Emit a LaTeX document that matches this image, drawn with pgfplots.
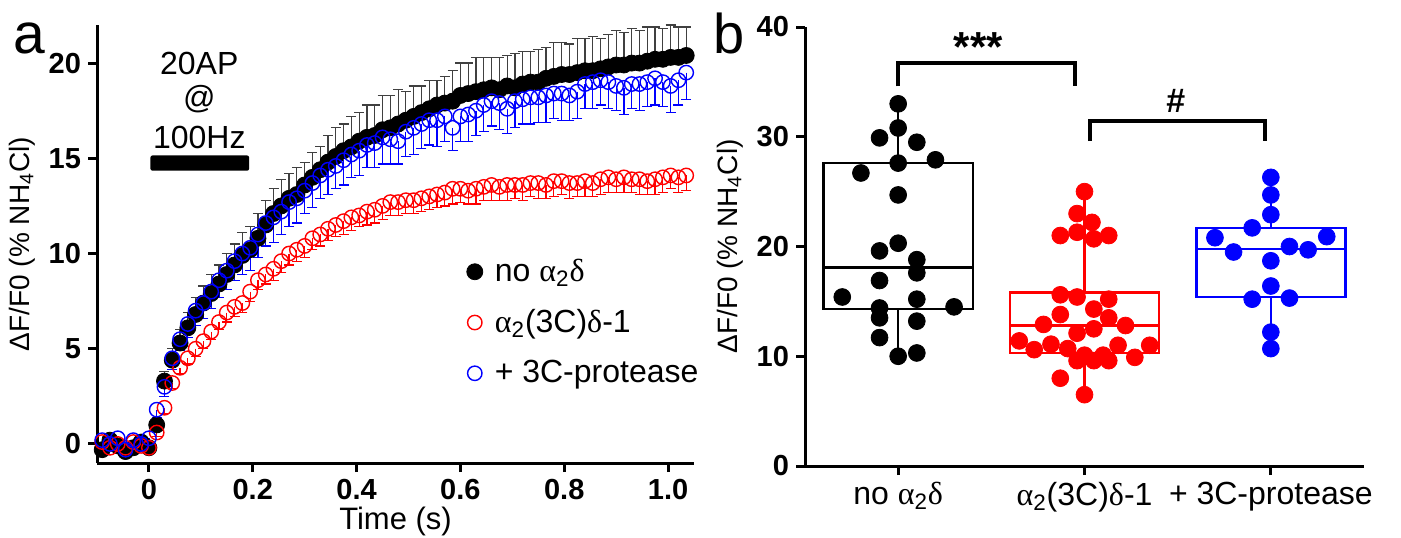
\documentclass[border=0pt]{standalone}
\usepackage{pgfplots}
\pgfplotsset{compat=1.18}
\usepackage{pgfplotstable}
\usepackage{fontspec}
\setmainfont{Liberation Sans}
\newfontfamily\grk{Liberation Serif}
\newcommand{\al}{{\grk α}}
\newcommand{\de}{{\grk δ}}
\newcommand{\fs}[1]{\fontsize{#1pt}{#1pt}\selectfont}

% time course: t, no a2d (k), a2(3C)d-1 (r), +3C-protease (b), with SEM
\pgfplotstableread{
t k ke r re b be
-0.090 -0.3 0.3 0.1 0.2 0.2 0.3
-0.075 0.2 0.3 -0.2 0.2 0.0 0.3
-0.060 -0.1 0.3 0.0 0.2 0.3 0.3
-0.045 -0.4 0.3 -0.2 0.2 -0.3 0.3
-0.030 -0.2 0.3 0.1 0.2 0.2 0.3
-0.015 0.1 0.3 -0.1 0.2 0.0 0.3
0.000 -0.2 0.3 -0.2 0.2 0.3 0.3
0.015 1.0 0.4 0.6 0.2 1.8 0.4
0.030 3.3 0.5 1.9 0.3 3.0 0.5
0.045 4.4 0.6 3.2 0.3 4.5 0.6
0.060 5.3 0.7 4.0 0.3 5.5 0.6
0.075 6.1 0.8 4.5 0.3 6.3 0.7
0.090 6.8 0.9 5.0 0.4 7.0 0.8
0.105 7.4 0.9 5.4 0.4 7.4 0.8
0.120 7.9 1.0 5.9 0.4 8.0 0.9
0.135 8.4 1.0 6.4 0.4 8.6 0.9
0.150 8.9 1.1 6.9 0.5 9.1 1.0
0.165 9.4 1.1 7.2 0.5 9.6 1.0
0.180 9.9 1.2 7.4 0.5 10.0 1.1
0.195 10.2 1.2 8.0 0.5 10.3 1.2
0.210 10.8 1.3 8.6 0.5 11.0 1.2
0.225 11.5 1.3 8.9 0.5 11.6 1.2
0.240 12.1 1.3 9.2 0.6 11.9 1.3
0.255 12.5 1.4 9.6 0.6 12.2 1.2
0.270 12.9 1.3 10.0 0.6 12.7 1.3
0.285 13.1 1.4 10.2 0.6 12.9 1.3
0.300 13.6 1.2 10.4 0.6 13.3 1.2
0.315 14.0 1.3 10.8 0.6 13.7 1.3
0.330 14.4 1.2 11.0 0.6 14.1 1.2
0.345 14.8 1.4 11.3 0.6 14.4 1.3
0.360 15.1 1.5 11.5 0.6 14.6 1.2
0.375 15.4 1.4 11.7 0.7 14.9 1.3
0.390 15.6 1.6 11.9 0.7 15.2 1.2
0.405 15.9 1.5 12.0 0.6 15.4 1.3
0.420 16.1 1.7 12.2 0.7 15.7 1.2
0.435 16.2 1.6 12.3 0.7 15.8 1.3
0.450 16.5 1.8 12.5 0.7 16.1 1.4
0.465 16.6 1.7 12.7 0.7 16.0 1.3
0.480 16.8 1.8 12.7 0.7 15.9 1.2
0.495 17.0 1.5 12.8 0.7 16.4 1.3
0.510 17.2 1.6 12.8 0.7 16.6 1.4
0.525 17.4 1.4 12.9 0.7 16.8 1.3
0.540 17.6 1.5 13.0 0.7 17.0 1.3
0.555 17.8 1.3 13.1 0.7 17.0 1.4
0.570 17.9 1.4 13.2 0.7 17.2 1.3
0.585 18.0 1.6 13.4 0.8 16.6 1.2
0.600 18.3 1.7 13.4 0.7 17.2 1.3
0.615 18.4 1.6 13.3 0.7 17.3 1.4
0.630 18.5 1.8 13.4 0.8 17.5 1.3
0.645 18.6 1.7 13.5 0.7 17.8 1.4
0.660 18.7 1.6 13.6 0.8 18.0 1.3
0.675 18.6 1.7 13.5 0.7 17.9 1.4
0.690 18.8 1.6 13.6 0.8 17.6 1.3
0.705 18.7 1.8 13.6 0.7 18.0 1.4
0.720 18.9 1.7 13.6 0.8 18.1 1.3
0.735 19.0 1.6 13.7 0.7 18.2 1.4
0.750 19.0 1.7 13.7 0.8 18.2 1.3
0.765 19.2 1.6 13.6 0.7 18.3 1.4
0.780 19.3 1.8 13.8 0.8 18.4 1.3
0.795 19.4 1.7 13.8 0.7 18.4 1.4
0.810 19.4 1.6 13.7 0.8 18.3 1.3
0.825 19.5 1.8 13.7 0.7 18.5 1.4
0.840 19.6 1.7 13.8 0.8 18.9 1.3
0.855 19.6 1.8 13.7 0.7 19.0 1.4
0.870 19.7 1.6 13.9 0.8 19.1 1.3
0.885 19.8 1.7 14.0 0.8 19.0 1.4
0.900 19.9 1.8 13.9 0.7 18.8 1.3
0.915 19.9 1.7 14.0 0.8 18.7 1.4
0.930 20.0 1.8 13.9 0.7 18.9 1.3
0.945 20.0 1.7 13.9 0.8 18.9 1.4
0.960 20.1 1.8 13.8 0.7 19.0 1.3
0.975 20.2 1.7 13.9 0.8 19.2 1.4
0.990 20.2 1.6 14.0 0.8 19.0 1.3
1.005 20.3 1.7 14.1 0.7 18.8 1.4
1.020 20.3 1.6 14.0 0.8 19.1 1.3
1.035 20.4 1.5 14.1 0.8 19.5 1.4
}\tracedata

\pgfplotsset{
  panel/.style={
    scale only axis, clip=false,
    axis x line*=bottom, axis y line*=left,
    axis line style={line width=1.5pt, -},
    tick style={line width=1.5pt, black},
    major tick length=4.5pt, tick align=outside,
    /pgf/number format/assume math mode=true,
    ticklabel style={font=\fs{14.5}\bfseries},
    label style={font=\fs{14}},
  },
  ebar/.style 2 args={error bars/.cd, y explicit, y dir=#1,
    error bar style={line width=0.6pt, #2},
    error mark=-,
    error mark options={line width=0.6pt, mark size=2.5pt, rotate=90, #2}},
  boxln/.style={#1, line width=1.2pt, line cap=rect, line join=miter, mark=none},
}

\begin{document}
\begin{tikzpicture}
\useasboundingbox (0,0) rectangle (700.5pt,268.5pt);

% ---- panel a ----
\begin{axis}[panel,
  at={(48.5pt,37pt)}, anchor=south west,
  width=298.5pt, height=219pt,
  xmin=-0.1, xmax=1.05, ymin=-1, ymax=22,
  xtick={0,0.2,0.4,0.6,0.8,1.0},
  xticklabels={0,0.2,0.4,0.6,0.8,1.0},
  ytick={0,5,10,15,20},
  xlabel={Time (s)},
  xlabel style={font=\fs{15.5}, yshift=3pt},
  ylabel={ΔF/F0 (\% NH\textsubscript{4}Cl)},
  legend style={at={(axis cs:0.6,10.15)}, anchor=north west, draw=none, fill=none,
    font=\fs{16}, row sep=8.5pt, column sep=4pt},
  legend cell align=left,
]
\addplot[only marks, mark=*, mark size=4pt, black, ebar={plus}{black!75}]
  table[x=t, y=k, y error=ke] {\tracedata};
\addplot[only marks, mark=o, mark size=3.6pt, red, mark options={line width=0.7pt},
  ebar={minus}{red}]
  table[x=t, y=r, y error=re] {\tracedata};
\addplot[only marks, mark=o, mark size=3.6pt, blue, mark options={line width=0.7pt},
  ebar={minus}{blue}]
  table[x=t, y=b, y error=be] {\tracedata};
\legend{no \al\textsubscript{2}\de, \al\textsubscript{2}(3C)\de-1, + 3C-protease}

\node[font=\fs{16}] at (axis cs:0.097,20.0) {20AP};
\node[font=\fs{16}] at (axis cs:0.097,18.1) {@};
\node[font=\fs{16}] at (axis cs:0.097,16.1) {100Hz};
\fill[rounded corners=1pt] (axis cs:0.003,14.35) rectangle (axis cs:0.193,15.15);
\end{axis}

% ---- panel b ----
\begin{axis}[panel,
  at={(402.5pt,35.5pt)}, anchor=south west,
  width=279.5pt, height=219.5pt,
  xmin=-0.5, xmax=2.5, ymin=0, ymax=40,
  xtick={0,1,2},
  xticklabels={no \al\textsubscript{2}\de, \al\textsubscript{2}(3C)\de-1, + 3C-protease},
  xticklabel style={font=\fs{16}},
  ytick={0,10,20,30,40},
  ylabel={ΔF/F0 (\% NH\textsubscript{4}Cl)},
]
% boxes: min, Q1, median, Q3, max
\addplot[boxln=black] coordinates {(-0.4,14.3) (0.4,14.3) (0.4,27.6) (-0.4,27.6) (-0.4,14.3)};
\addplot[boxln=black] coordinates {(-0.4,18.1) (0.4,18.1)};
\addplot[boxln=black] coordinates {(0,10.0) (0,14.3)};
\addplot[boxln=black] coordinates {(0,27.6) (0,33.0)};
\addplot[boxln=red] coordinates {(0.6,10.3) (1.4,10.3) (1.4,15.8) (0.6,15.8) (0.6,10.3)};
\addplot[boxln=red] coordinates {(0.6,12.8) (1.4,12.8)};
\addplot[boxln=red] coordinates {(1,6.5) (1,10.3)};
\addplot[boxln=red] coordinates {(1,15.8) (1,25.0)};
\addplot[boxln=blue] coordinates {(1.6,15.4) (2.4,15.4) (2.4,21.7) (1.6,21.7) (1.6,15.4)};
\addplot[boxln=blue] coordinates {(1.6,19.8) (2.4,19.8)};
\addplot[boxln=blue] coordinates {(2,10.7) (2,15.4)};
\addplot[boxln=blue] coordinates {(2,21.7) (2,26.3)};

\addplot[only marks, mark=*, mark size=4.2pt, black] coordinates {
  (0,33.0) (0,30.8) (-0.10,29.9) (0.10,29.5) (0,27.6) (0.20,27.9) (-0.20,26.7)
  (0,24.7) (0,20.3) (-0.10,19.6) (0.10,18.8) (0.10,17.6) (-0.10,16.9)
  (-0.30,15.4) (0.10,15.2) (0.30,14.5) (-0.10,14.4) (-0.10,13.5) (0.10,13.2)
  (-0.10,11.7) (0,10.0) (0.10,10.3)};
\addplot[only marks, mark=*, mark size=4.2pt, red] coordinates {
  (1,25.0) (0.96,23.0) (1.04,22.2) (0.87,21.0) (0.96,21.3) (1.05,20.7) (1.13,21.0)
  (0.87,15.6) (0.96,15.4) (1.13,15.2) (0.87,13.8) (1.05,14.3) (1.13,13.5)
  (0.78,12.9) (1.22,12.8) (1.05,12.5) (0.96,12.1)
  (0.65,11.4) (0.73,10.6) (0.82,11.1) (0.91,10.7) (1.18,11.0) (1.35,11.0)
  (0.96,9.6) (1.0,10.1) (1.05,9.6) (1.10,10.1) (1.13,9.6) (1.27,9.9)
  (0.87,8.0) (1.0,6.5)};
\addplot[only marks, mark=*, mark size=4.2pt, blue] coordinates {
  (2,26.3) (2,24.7) (2,22.9) (1.90,21.7) (1.70,20.8) (2.30,20.9) (1.80,19.5)
  (2.10,20.0) (2.20,19.7) (2,18.7) (2,16.4) (1.90,15.2) (2.10,15.3)
  (2,12.2) (2,10.7)};

\draw[line width=2pt] (axis cs:0,34.6) -- (axis cs:0,36.7) -- (axis cs:0.95,36.7) -- (axis cs:0.95,34.6);
\draw[line width=2pt] (axis cs:1.03,29.6) -- (axis cs:1.03,31.4) -- (axis cs:1.97,31.4) -- (axis cs:1.97,29.6);
\node[font=\fs{21}\bfseries, anchor=base, inner sep=0pt] at (axis cs:0.43,36.9) {***};
\node[font=\fs{17}\bfseries, anchor=base, inner sep=0pt] at (axis cs:1.49,32.2) {\#};
\end{axis}

\node[anchor=base west, inner sep=0pt, font=\fs{28.5}] at (6.5pt,242pt) {a};
\node[anchor=base west, inner sep=0pt, font=\fs{28}] at (356.5pt,242pt) {b};
\end{tikzpicture}
\end{document}
